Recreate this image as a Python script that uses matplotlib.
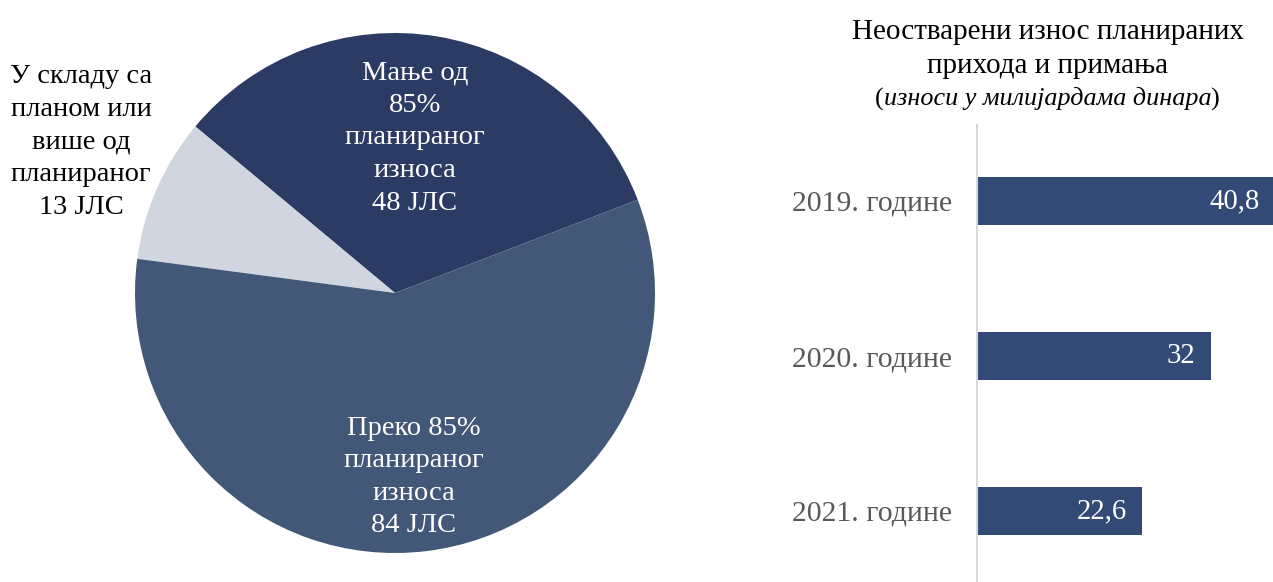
import matplotlib.pyplot as plt

plt.rcParams['font.family'] = ['Liberation Serif', 'DejaVu Serif']

# pie data
pie_labels = ["Мање од\n85%\nпланираног\nизноса\n48 ЈЛС",
              "У складу са\nпланом или\nвише од\nпланираног\n13 ЈЛС",
              "Преко 85%\nпланираног\nизноса\n84 ЈЛС"]
pie_values = [48, 13, 84]
pie_colors = ["#2b3b63", "#d0d5df", "#435778"]

# bar data
years = ["2019. године", "2020. године", "2021. године"]
amounts = [40.8, 32, 22.6]
amount_labels = ["40,8", "32", "22,6"]

W, H = 1273, 582
fig = plt.figure(figsize=(W / 100, H / 100), dpi=100)

# pie in pixel-like coordinates
ax = fig.add_axes([0, 0, 1, 1])
cx, cy, r = 395, H - 293, 260
ax.pie(pie_values, colors=pie_colors, startangle=21, counterclock=True,
       center=(cx, cy), radius=r, frame=True,
       wedgeprops=dict(linewidth=0))
ax.set_xlim(0, W)
ax.set_ylim(0, H)
ax.axis('off')

fs = 20.5
ls = 1.4
ax.text(415, H - 138, pie_labels[0], ha='center', va='center', color='white',
        fontsize=fs, linespacing=ls)
ax.text(81, H - 142, pie_labels[1], ha='center', va='center', color='black',
        fontsize=fs, linespacing=ls)
ax.text(414, H - 477, pie_labels[2], ha='center', va='center', color='white',
        fontsize=fs, linespacing=ls)

# title of bar chart
tfs = 21
ax.text(1048, H - 32, "Неостварени износ планираних", ha='center', va='center',
        fontsize=tfs, color='black')
ax.text(1048, H - 66, "прихода и примања", ha='center', va='center',
        fontsize=tfs, color='black')
sub = ax.text(1048, H - 99, "износи у милијардама динара", ha='center', va='center',
              fontsize=18.8, style='italic', color='black')
fig.canvas.draw()
bb = sub.get_window_extent()
ax.text(bb.x0 - 1, H - 99, "(", ha='right', va='center', fontsize=18.8)
ax.text(bb.x1 - 2, H - 99, ")", ha='left', va='center', fontsize=18.8)

# bar chart
x0 = 977
scale = 7.31
top = 125
bax = fig.add_axes([x0 / W, 0, (W - x0) / W, (H - top) / H])
ypos = list(range(len(years)))
bax.barh(ypos, amounts, height=0.316, color="#344a76")
bax.set_xlim(0, (W - x0) / scale)
bax.set_ylim((H - 201) / 155, (top - 201) / 155)
for s in ['top', 'right', 'bottom']:
    bax.spines[s].set_visible(False)
bax.spines['left'].set_color('#d9d9d9')
bax.spines['left'].set_linewidth(1.5)
bax.set_xticks([])
bax.set_yticks(ypos)
bax.set_yticklabels(years, fontsize=21.4, color='#595959')
bax.tick_params(axis='y', length=0, pad=18)
for y, v, lab in zip(ypos, amounts, amount_labels):
    bax.annotate(lab, (v, y), xytext=(-11, 0), textcoords='offset points',
                 ha='right', va='center', color='white', fontsize=20.7,
                 annotation_clip=False)

fig.savefig("out.png", dpi=100)
